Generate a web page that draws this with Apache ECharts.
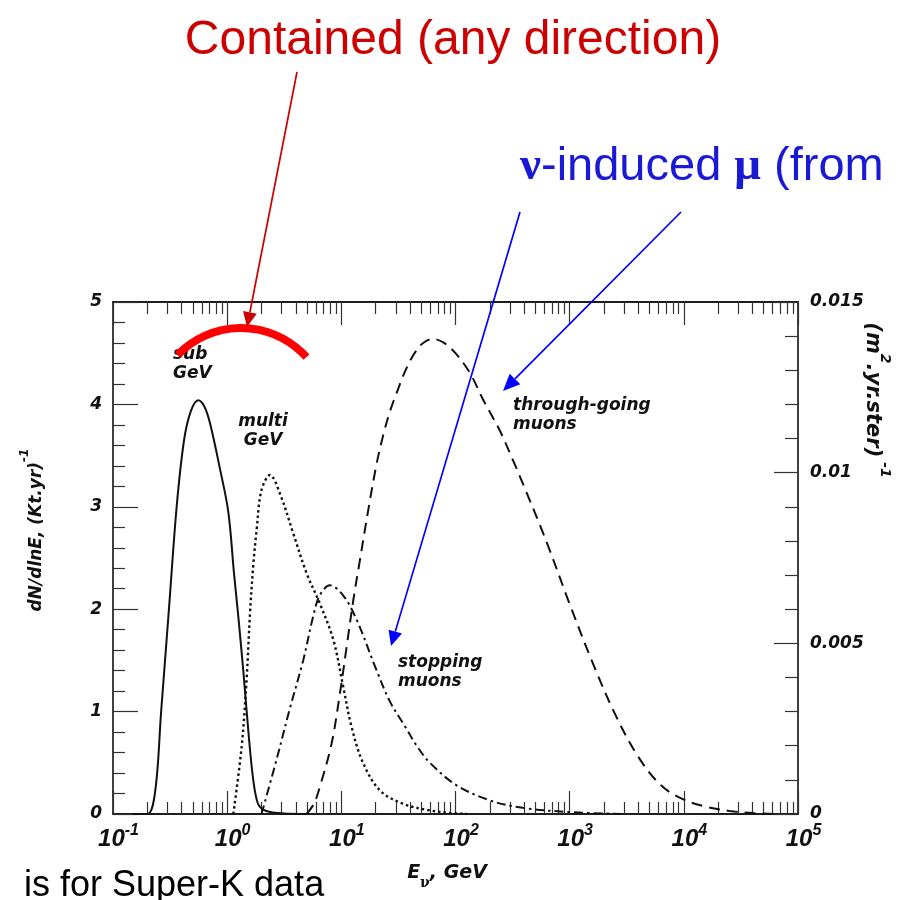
<!DOCTYPE html>
<html>
<head>
<meta charset="utf-8">
<script src="https://cdn.jsdelivr.net/npm/echarts@6/dist/echarts.min.js"></script>
<style>
  html, body { margin: 0; padding: 0; background: #ffffff; }
  #chart { width: 900px; height: 900px; }
</style>
</head>
<body>
<div id="chart"></div>
<script>
// Neutrino energy (GeV) and event rates dN/dlnE per (kt yr) for contained events
const subGeVEnergy = [0.148, 0.2, 0.234, 0.264, 0.309, 0.361, 0.419, 0.479, 0.558, 0.631, 0.706, 0.865, 1.023, 1.148, 1.259, 1.384, 1.549, 1.698, 1.862, 2.089, 2.512, 3.162, 5.0];
const subGeVRate   = [0, 0, 0.22, 1.0, 2.0, 3.0, 3.65, 3.93, 4.04, 3.98, 3.82, 3.37, 2.95, 2.35, 1.9, 1.4, 0.75, 0.32, 0.1, 0.04, 0.015, 0.005, 0];

const multiGeVEnergy = [1.132, 1.340, 1.479, 1.585, 1.698, 1.811, 1.995, 2.371, 2.897, 3.793, 4.966, 6.457, 8.511, 10.40, 12.30, 15.49, 21.78, 34.67, 56.23, 89.13, 125.9];
const multiGeVRate   = [0, 0.66, 1.31, 1.96, 2.45, 2.77, 3.16, 3.31, 3.13, 2.74, 2.35, 2.06, 1.70, 1.24, 0.85, 0.50, 0.23, 0.10, 0.04, 0.01, 0];

// Upward muon fluxes per (m^2 yr sr), read on the right-hand axis
const stoppingEnergy = [2.0, 2.71, 3.548, 4.634, 5.675, 6.457, 7.943, 10.40, 13.58, 20.42, 26.61, 37.15, 45.71, 59.70, 102.3, 199.5, 389.0, 1072, 3162];
const stoppingFlux   = [0, 0.0016, 0.0031, 0.0045, 0.0058, 0.0064, 0.0067, 0.0064, 0.0057, 0.0042, 0.0033, 0.0025, 0.0020, 0.0015, 0.00084, 0.0004, 0.00018, 0.00005, 0];

const throughEnergy = [4.955, 5.754, 6.501, 8.222, 9.727, 11.12, 12.74, 14.55, 17.22, 20.37, 23.28, 26.61, 30.48, 34.83, 39.81, 45.71, 52.12, 63.10, 79.43, 100, 134.9, 173.8, 245.5, 319.9, 398.1, 631.0, 1000, 1585, 2512, 3981, 6310, 10000, 15850, 25120, 39810, 63100];
const throughFlux   = [0, 0.0003, 0.00081, 0.00207, 0.00354, 0.00489, 0.00627, 0.00744, 0.00891, 0.01026, 0.0111, 0.01179, 0.01233, 0.01284, 0.01326, 0.01359, 0.0138, 0.01392, 0.0138, 0.0135, 0.0129, 0.01215, 0.01122, 0.01035, 0.0096, 0.00795, 0.00615, 0.00444, 0.00291, 0.00168, 0.00084, 0.00042, 0.00021, 0.00009, 0.00003, 0];

// Axis ticks and labels
const decadeTicks = [0.1, 1, 10, 100, 1000, 10000, 100000];
const decadeExponents = ['-1', '0', '1', '2', '3', '4', '5'];
const leftTickLabels = ['0', '1', '2', '3', '4', '5'];
const rightTickLabels = ['0', '0.005', '0.01', '0.015'];

// 2..9 sub-divisions inside each decade
const minorTicks = [];
for (let d = 0; d < decadeTicks.length - 1; d++) {
  for (let m = 2; m <= 9; m++) minorTicks.push(+(decadeTicks[d] * m).toPrecision(3));
}

const pairs = (xs, ys) => xs.map((x, i) => [x, ys[i]]);

const INK = '#111';
const tickFont = { fontFamily: 'DejaVu Sans', fontWeight: 'bold', fontStyle: 'italic', fontSize: 17, color: INK };

function logX(position, withLabels, ticks, len) {
  return {
    type: 'log', logBase: 10, min: 0.1, max: 100000, position: position,
    axisLine: { show: withLabels !== null, onZero: false, lineStyle: { color: INK, width: 1.6 } },
    axisTick: { show: true, inside: true, length: len, customValues: ticks, lineStyle: { color: '#333', width: 1.2 } },
    minorTick: { show: false },
    splitLine: { show: false },
    axisLabel: withLabels ? {
      show: true, margin: 9, customValues: decadeTicks, showMinLabel: true, showMaxLabel: true,
      formatter: function (v) {
        const i = decadeTicks.findIndex(t => Math.abs(t - v) / t < 1e-6);
        return '{pad|}{b|10}{s|' + decadeExponents[i] + '}';
      },
      rich: {
        pad: { width: 11 },
        b: { fontFamily: 'Liberation Sans', fontWeight: 'bold', fontStyle: 'italic', fontSize: 24, color: INK, lineHeight: 28, verticalAlign: 'bottom' },
        s: { fontFamily: 'Liberation Sans', fontWeight: 'bold', fontStyle: 'italic', fontSize: 16, color: INK, lineHeight: 28, verticalAlign: 'top' }
      }
    } : { show: false }
  };
}

function arrow(x1, y1, x2, y2, color, headLen, headW) {
  const dx = x2 - x1, dy = y2 - y1, L = Math.hypot(dx, dy);
  const ux = dx / L, uy = dy / L;
  const bx = x2 - ux * headLen, by = y2 - uy * headLen;
  const px = -uy * headW / 2, py = ux * headW / 2;
  return [
    { type: 'line', z: 100, shape: { x1: x1, y1: y1, x2: bx, y2: by }, style: { stroke: color, lineWidth: 1.7 } },
    { type: 'polygon', z: 100, shape: { points: [[x2, y2], [bx + px, by + py], [bx - px, by - py]] }, style: { fill: color } }
  ];
}

function label(text, x, y, align, size) {
  return {
    type: 'text', x: x, y: y, z: 50,
    style: {
      text: text, fill: INK, align: align, textAlign: align, verticalAlign: 'middle', textVerticalAlign: 'middle',
      font: 'italic bold ' + size + 'px "DejaVu Sans"', lineHeight: size + 2
    }
  };
}

const curve = (name, yAxisIndex, xs, ys, lineStyle) => ({
  name: name, type: 'line', xAxisIndex: 0, yAxisIndex: yAxisIndex,
  showSymbol: false, symbol: 'none', smooth: 0.35,
  data: pairs(xs, ys), lineStyle: Object.assign({ color: INK, width: 2 }, lineStyle)
});

const chart = echarts.init(document.getElementById('chart'), null, { renderer: 'canvas' });

chart.setOption({
  animation: false,
  backgroundColor: '#ffffff',
  grid: { left: 113, top: 302, right: 102, bottom: 86, containLabel: false },
  xAxis: [
    logX('bottom', true, decadeTicks, 23),
    logX('bottom', false, minorTicks, 12),
    logX('top', false, decadeTicks, 23),
    logX('top', false, minorTicks, 12)
  ],
  yAxis: [
    {
      type: 'value', min: 0, max: 5, interval: 1, position: 'left',
      axisLine: { show: true, onZero: false, lineStyle: { color: INK, width: 1.6 } },
      axisTick: { show: true, inside: true, length: 25, lineStyle: { color: '#333', width: 1.2 } },
      minorTick: { show: true, splitNumber: 5, length: 12, lineStyle: { color: '#333', width: 1.2 } },
      splitLine: { show: false },
      axisLabel: Object.assign({ margin: 11, formatter: (v) => leftTickLabels[Math.round(v)] }, tickFont)
    },
    {
      type: 'value', min: 0, max: 0.015, interval: 0.005, position: 'right',
      axisLine: { show: true, onZero: false, lineStyle: { color: INK, width: 1.6 } },
      axisTick: { show: true, inside: true, length: 24, lineStyle: { color: '#333', width: 1.2 } },
      minorTick: { show: true, splitNumber: 5, length: 13, lineStyle: { color: '#333', width: 1.2 } },
      splitLine: { show: false },
      axisLabel: Object.assign({ margin: 12, formatter: (v) => rightTickLabels[Math.round(v / 0.005)] }, tickFont)
    }
  ],
  series: [
    curve('sub GeV', 0, subGeVEnergy, subGeVRate, {}),
    curve('multi GeV', 0, multiGeVEnergy, multiGeVRate, { width: 2.4, type: [2.5, 3] }),
    curve('stopping muons', 1, stoppingEnergy, stoppingFlux, { type: [9, 4, 2.5, 4] }),
    curve('through-going muons', 1, throughEnergy, throughFlux, { type: [11, 7] })
  ],
  graphic: [
    // axis titles
    {
      type: 'text', x: 447, y: 877, z: 50,
      style: {
        text: '{m|E}{n|ν}{m|, GeV}', align: 'center', textAlign: 'center', verticalAlign: 'middle', textVerticalAlign: 'middle',
        rich: {
          m: { fontFamily: 'DejaVu Sans', fontWeight: 'bold', fontStyle: 'italic', fontSize: 19, fill: INK, lineHeight: 26, verticalAlign: 'top' },
          n: { fontFamily: 'DejaVu Serif', fontWeight: 'bold', fontSize: 14, fill: INK, lineHeight: 26, verticalAlign: 'bottom' }
        }
      }
    },
    {
      type: 'text', x: 32, y: 530, rotation: Math.PI / 2, z: 50,
      style: {
        text: '{m|dN/dlnE, (Kt.yr)}{s|-1}', align: 'center', textAlign: 'center', verticalAlign: 'middle', textVerticalAlign: 'middle',
        rich: {
          m: { fontFamily: 'DejaVu Sans', fontWeight: 'bold', fontStyle: 'italic', fontSize: 17, fill: INK, lineHeight: 26, verticalAlign: 'bottom' },
          s: { fontFamily: 'DejaVu Sans', fontWeight: 'bold', fontStyle: 'italic', fontSize: 12, fill: INK, lineHeight: 26, verticalAlign: 'top' }
        }
      }
    },
    {
      type: 'text', x: 877, y: 400, rotation: -Math.PI / 2, z: 50,
      style: {
        text: '{m|(m}{s|2}{m|.yr.ster)}{s| -1}', align: 'center', textAlign: 'center', verticalAlign: 'middle', textVerticalAlign: 'middle',
        rich: {
          m: { fontFamily: 'DejaVu Sans', fontWeight: 'bold', fontStyle: 'italic', fontSize: 21, fill: INK, lineHeight: 30, verticalAlign: 'bottom' },
          s: { fontFamily: 'DejaVu Sans', fontWeight: 'bold', fontStyle: 'italic', fontSize: 14, fill: INK, lineHeight: 30, verticalAlign: 'top' }
        }
      }
    },
    // curve labels
    label('sub\nGeV', 173, 364, 'left', 17),
    label('multi\nGeV', 263, 431, 'center', 17),
    label('through-going\nmuons', 513, 415, 'left', 17),
    label('stopping\nmuons', 398, 672, 'left', 17),
    // contained-event bracket
    {
      type: 'arc', z: 90,
      shape: { cx: 241, cy: 416, r: 88, startAngle: -136 * Math.PI / 180, endAngle: -42 * Math.PI / 180, clockwise: true },
      style: { stroke: '#ff0000', lineWidth: 8, fill: null }
    },
    ...arrow(297, 72, 247, 327, '#cc0000', 15, 14),
    ...arrow(520, 212, 391, 646, '#0000ff', 15, 14),
    ...arrow(681, 212, 503, 391, '#0000ff', 17, 15),
    {
      type: 'text', x: 453, y: 41, z: 100,
      style: {
        text: 'Contained (any direction)', fill: '#cc0000', align: 'center', textAlign: 'center',
        verticalAlign: 'middle', textVerticalAlign: 'middle', font: '48px "Liberation Sans"'
      }
    },
    {
      type: 'text', x: 520, y: 167, z: 100,
      style: {
        text: '{g|ν}{t|-induced }{g|μ}{t| (from}', align: 'left', textAlign: 'left', verticalAlign: 'middle', textVerticalAlign: 'middle',
        rich: {
          g: { fontFamily: 'Liberation Serif', fontWeight: 'bold', fontSize: 47, fill: '#1a1ad6' },
          t: { fontFamily: 'Liberation Sans', fontSize: 47, fill: '#1a1ad6' }
        }
      }
    },
    {
      type: 'text', x: 24, y: 904, z: 100,
      style: {
        text: 'is for Super-K data', fill: '#000000', align: 'left', textAlign: 'left',
        verticalAlign: 'alphabetic', textVerticalAlign: 'bottom', font: '36px "Liberation Sans"'
      }
    }
  ]
});
</script>
</body>
</html>
